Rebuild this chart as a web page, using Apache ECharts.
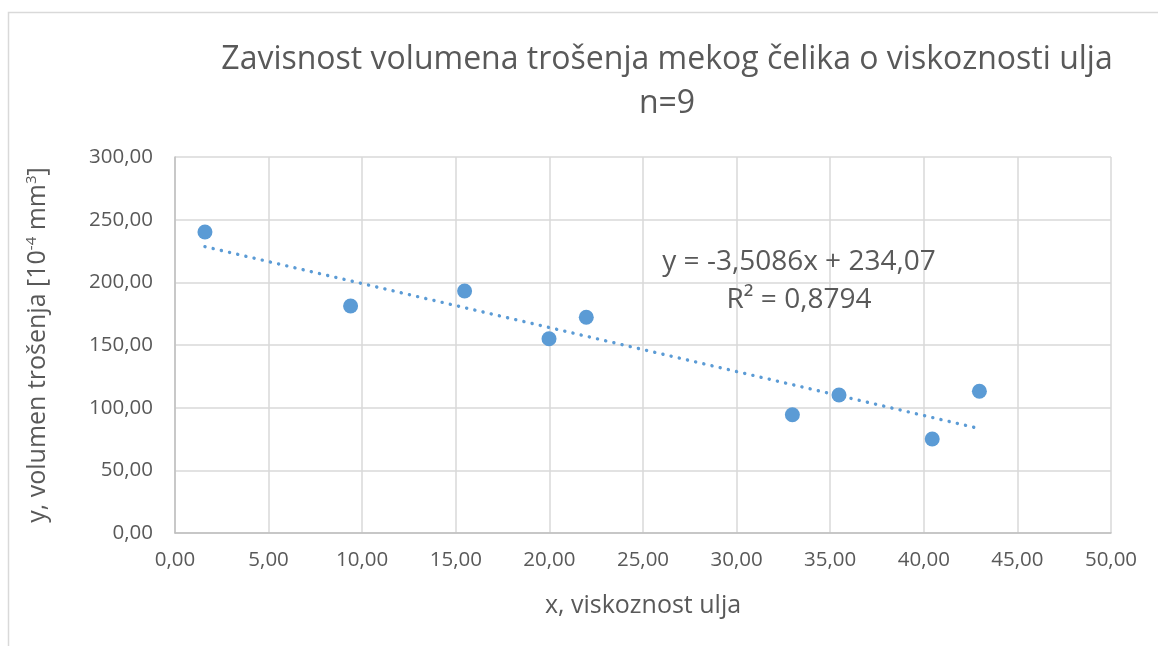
<!DOCTYPE html>
<html>
<head>
<meta charset="utf-8">
<script src="https://cdn.jsdelivr.net/npm/echarts@6/dist/echarts.min.js"></script>
<style>html,body{margin:0;padding:0;background:#fff;}#c{width:1158px;height:646px;}</style>
</head>
<body>
<div id="c"></div>
<script>
var xValues = [1.6, 9.38, 15.47, 19.98, 21.97, 32.98, 35.47, 40.45, 42.97];
var yValues = [240.2, 181.1, 193.1, 155.0, 172.1, 94.4, 110.1, 75.0, 113.1];
var trendX = [1.6, 42.7];
var trendY = [228.46, 84.26];
var titleLines = ['Zavisnost volumena trošenja mekog čelika o viskoznosti ulja', 'n=9'];
var equationLines = ['y = -3,5086x + 234,07', 'R² = 0,8794'];
var xTitle = 'x, viskoznost ulja';

var font = '"Open Sans", "Noto Sans", sans-serif';
var txt = '#595959';
var blue = '#5b9bd5';

var points = xValues.map(function (x, i) { return [x, yValues[i]]; });
var trend = trendX.map(function (x, i) { return [x, trendY[i]]; });
function fmt(v) { return v.toFixed(2).replace('.', ','); }

var chart = echarts.init(document.getElementById('c'), null, { renderer: 'canvas' });
chart.setOption({
  animation: false,
  backgroundColor: '#fff',
  grid: { left: 175, right: 47, top: 157, bottom: 113, containLabel: false },
  xAxis: {
    type: 'value', min: 0, max: 50, interval: 5,
    name: xTitle, nameLocation: 'middle', nameGap: 60,
    nameTextStyle: { color: txt, fontSize: 25, fontFamily: font },
    axisLine: { show: true, onZero: false, lineStyle: { color: '#bfbfbf', width: 1.5 } },
    axisTick: { show: false },
    axisLabel: { color: txt, fontSize: 20.5, fontFamily: font, margin: 17, formatter: fmt },
    splitLine: { show: true, lineStyle: { color: '#d9d9d9', width: 1.5 } }
  },
  yAxis: {
    type: 'value', min: 0, max: 300, interval: 50,
    name: 'y, volumen trošenja [10{s|-4} mm{s|3}]', nameLocation: 'middle', nameGap: 124, nameRotate: 90,
    nameTextStyle: { color: txt, fontSize: 25, fontFamily: font,
      rich: { s: { fontSize: 15, verticalAlign: 'top', color: txt, fontFamily: font, padding: [0, 0, 12, 0] } } },
    axisLine: { show: true, lineStyle: { color: '#bfbfbf', width: 1.5 } },
    axisTick: { show: false },
    axisLabel: { color: txt, fontSize: 20.5, fontFamily: font, margin: 22, formatter: fmt },
    splitLine: { show: true, lineStyle: { color: '#d9d9d9', width: 1.5 } }
  },
  series: [
    {
      type: 'line', data: trend, symbol: 'none', silent: true, z: 1,
      lineStyle: { color: blue, width: 3.4, type: [0.1, 8.3], cap: 'round' }
    },
    {
      type: 'scatter', data: points, symbol: 'circle', symbolSize: 15, z: 2,
      itemStyle: { color: blue, opacity: 1 }
    }
  ],
  graphic: [
    { type: 'polyline', shape: { points: [[8.5, 646], [8.5, 12.5], [1158, 12.5]] }, style: { stroke: '#d9d9d9', lineWidth: 1.5, fill: null } },
    { type: 'text', x: 667, y: 60, style: { text: titleLines[0], fontSize: 32, fontFamily: font, fill: txt, align: 'center', verticalAlign: 'middle' } },
    { type: 'text', x: 667, y: 104, style: { text: titleLines[1], fontSize: 32, fontFamily: font, fill: txt, align: 'center', verticalAlign: 'middle' } },
    { type: 'text', x: 799, y: 262, z: 10, style: { text: equationLines[0], fontSize: 28, fontFamily: font, fill: txt, align: 'center', verticalAlign: 'middle' } },
    { type: 'text', x: 799, y: 300, z: 10, style: { text: equationLines[1], fontSize: 28, fontFamily: font, fill: txt, align: 'center', verticalAlign: 'middle' } }
  ]
});
</script>
</body>
</html>
